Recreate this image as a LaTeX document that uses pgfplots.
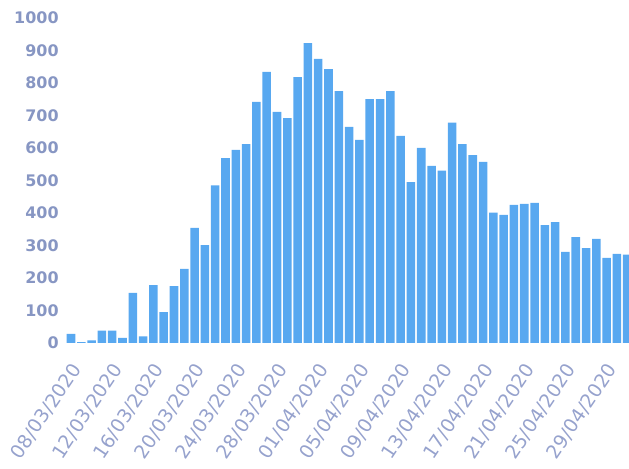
\documentclass[border=0pt]{standalone}
\usepackage{pgfplots}
\pgfplotsset{compat=1.18}
\usepackage{pgfplotstable}
\usepackage{fontspec}
\setmainfont{DejaVu Sans}
\definecolor{barblue}{RGB}{88,168,240}
\definecolor{ylab}{RGB}{135,150,195}
\definecolor{xlab}{RGB}{150,162,205}
\pgfplotstableread{
i v
0 28
1 3
2 8
3 38
4 38
5 16
6 154
7 20
8 178
9 95
10 175
11 228
12 354
13 301
14 485
15 569
16 594
17 612
18 742
19 834
20 711
21 692
22 818
23 923
24 874
25 843
26 775
27 665
28 625
29 750
30 750
31 775
32 637
33 495
34 600
35 545
36 530
37 678
38 612
39 578
40 557
41 401
42 394
43 425
44 428
45 431
46 363
47 372
48 280
49 326
50 292
51 320
52 262
53 274
54 272
}\datatable
\begin{document}
\begin{tikzpicture}[x=1bp,y=1bp]
\useasboundingbox (0,0) rectangle (629,469);
\begin{axis}[
  at={(64.8bp,126bp)}, anchor=south west,
  scale only axis, width=564.2bp, height=325bp,
  xmin=-0.6, xmax=54.17, ymin=0, ymax=1000,
  axis line style={draw=none},
  major tick length=0pt,
  ytick={0,100,...,1000},
  xtick={0,4,...,52},
  xticklabels={08/03/2020,12/03/2020,16/03/2020,20/03/2020,24/03/2020,28/03/2020,01/04/2020,05/04/2020,09/04/2020,13/04/2020,17/04/2020,21/04/2020,25/04/2020,29/04/2020},
  /pgf/number format/assume math mode=true,
  /pgf/number format/1000 sep={},
  yticklabel style={font=\fontsize{16}{19}\selectfont\bfseries, text=ylab, anchor=east, inner sep=0pt, xshift=-6bp},
  xticklabel style={xshift=6bp, yshift=-23bp, rotate=56, anchor=east, inner sep=0pt, font=\fontsize{19}{22}\selectfont, text=xlab},
]
\addplot[ybar, bar width=0.83, bar shift=0pt, fill=barblue, draw=none] table[x=i, y=v] {\datatable};
\end{axis}
\end{tikzpicture}
\end{document}
